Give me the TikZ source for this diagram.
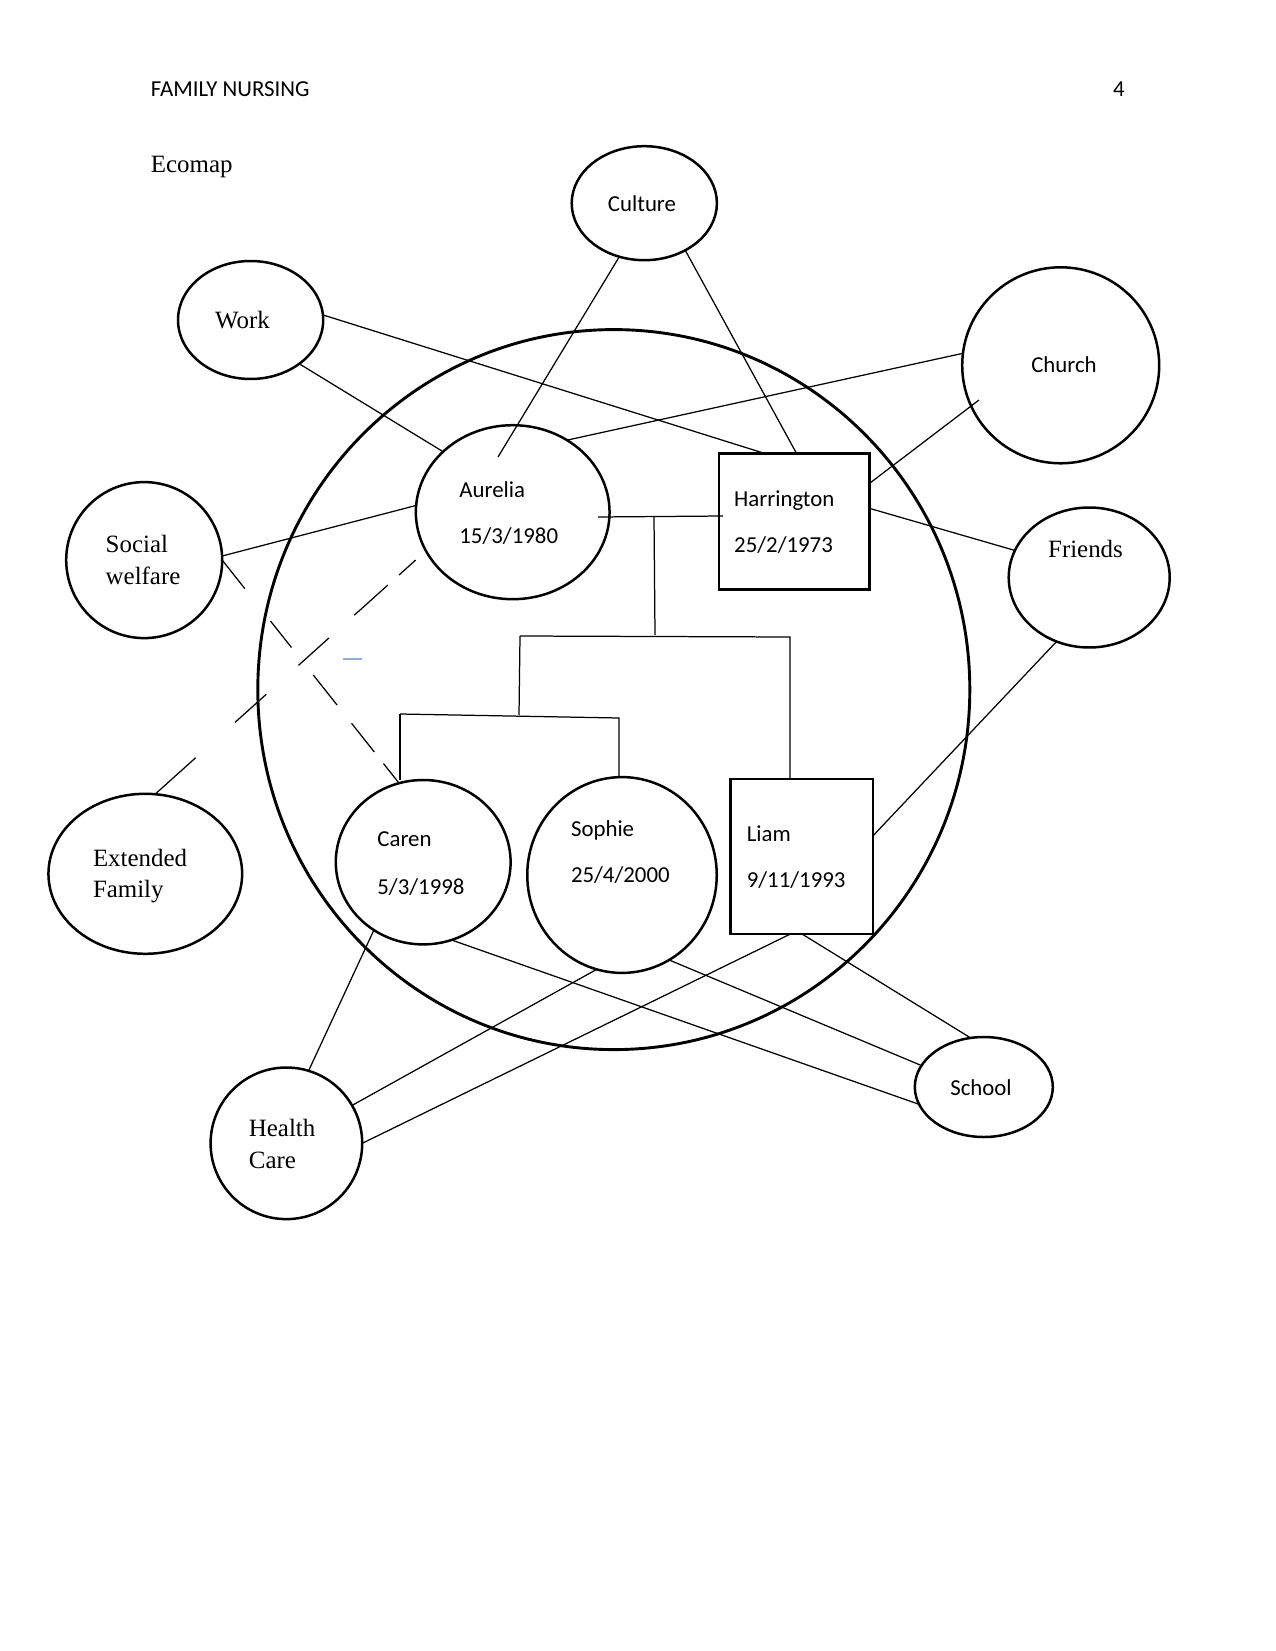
\documentclass[tikz,border=0pt]{standalone}
\usepackage{fontspec}
\setmainfont{Liberation Serif}
\newfontfamily\calib{Carlito}
\usetikzlibrary{shapes.geometric}
\begin{document}
\begin{tikzpicture}[x=0.4818pt, y=-0.4818pt,
  ell/.style 2 args={draw, ellipse, line width=1.2pt, inner sep=0pt, outer sep=0pt,
    minimum width={#1*0.4818pt}, minimum height={#2*0.4818pt}},
  famrect/.style 2 args={draw, rectangle, line width=1.2pt, inner sep=0pt, outer sep=0pt,
    minimum width={#1*0.4818pt}, minimum height={#2*0.4818pt}},
  link/.style={line width=0.6pt},
  sans/.style={font=\calib\fontsize{11}{13}\selectfont, inner sep=0pt},
  serif/.style={font=\fontsize{12}{14}\selectfont, inner sep=0pt}]
\useasboundingbox (0,0) rectangle (1275,1651);

% header
\node[sans, anchor=base west] (hdr) at (150.5,97) {FAMILY NURSING};
\node[sans, anchor=base] (pg) at (1119,97) {4};
\node[serif, anchor=base west] (title) at (150.5,173) {Ecomap};

% shapes
\node[ell={1424}{1440}, line width=1.4pt, minimum width={712*0.4818pt}, minimum height={720*0.4818pt}] (home) at (613.8,689.6) {};
\node[ell={145.2}{114}] (culture) at (644.3,203.2) {};
\node[ell={145.2}{118}] (work) at (250.6,320) {};
\node[ell={197}{196}] (church) at (1060.7,365.3) {};
\node[ell={193.7}{174}] (aur) at (512.7,512.2) {};
\node[famrect={150.6}{135.9}] (harr) at (794.3,521.65) {};
\node[ell={161}{140}] (friends) at (1089.2,577.5) {};
\node[ell={156}{156}] (social) at (144.2,560.1) {};
\node[ell={193.7}{160}] (ext) at (145.3,873.8) {};
\node[ell={174.8}{164.4}] (caren) at (423.2,862.2) {};
\node[ell={189.5}{195.8}] (sophie) at (622,875) {};
\node[famrect={142.2}{154.8}] (liam) at (801.7,856.4) {};
\node[ell={151.6}{151.6}] (health) at (286.4,1143.3) {};
\node[ell={138}{100}] (school) at (983.8,1087) {};

% texts
\node[sans, anchor=base] (cultureT) at (642,211.5) {Culture};
\node[serif, anchor=base west] (workT) at (214.8,329) {Work};
\node[sans, anchor=base] (churchT) at (1064,372.5) {Church};
\node[sans, anchor=base west] (aurT1) at (459,497) {Aurelia};
\node[sans, anchor=base west] (aurT2) at (459,543.5) {15/3/1980};
\node[sans, anchor=base west] (harrT1) at (733.8,506.5) {Harrington};
\node[sans, anchor=base west] (harrT2) at (733.8,552.5) {25/2/1973};
\node[serif, anchor=base] (friendsT) at (1085.5,557.6) {Friends};
\node[serif, anchor=base west] (socialT1) at (105.3,552) {Social};
\node[serif, anchor=base west] (socialT2) at (105.3,584) {welfare};
\node[serif, anchor=base west] (extT1) at (92.6,866) {Extended};
\node[serif, anchor=base west] (extT2) at (92.6,897.6) {Family};
\node[sans, anchor=base west] (carenT1) at (377,846.5) {Caren};
\node[sans, anchor=base west] (carenT2) at (377,894) {5/3/1998};
\node[sans, anchor=base west] (sophieT1) at (570.6,836) {Sophie};
\node[sans, anchor=base west] (sophieT2) at (570.6,882.5) {25/4/2000};
\node[sans, anchor=base west] (liamT1) at (746.4,841.3) {Liam};
\node[sans, anchor=base west] (liamT2) at (746.4,887.5) {9/11/1993};
\node[serif, anchor=base west] (healthT1) at (248.5,1136.6) {Health};
\node[serif, anchor=base west] (healthT2) at (248.5,1168) {Care};
\node[sans, anchor=base] (schoolT) at (981,1095) {School};

% free-end coordinates
\coordinate (cuA) at (498,457);
\coordinate (chH) at (979,400);
\coordinate (dA) at (415.7,560);
\coordinate (mA) at (598,517);
\coordinate (mH) at (723,516);
\coordinate (m) at (654,517);
\coordinate (k) at (655,635);
\coordinate (kL) at (520,636);
\coordinate (kR) at (790,637);
\coordinate (j) at (519,715);
\coordinate (jL) at (400,714);
\coordinate (jR) at (619,718);
\coordinate (bl1) at (343,659);
\coordinate (bl2) at (362,659);

% ecomap connectors
\draw[link] (work.4) -- (harr.113.7);
\draw[link] (work.-42) -- (aur.139);
\draw[link] (culture.-115) -- (cuA);
\draw[link] (culture.-49) -- (harr.88.5);
\draw[link] (church.173.5) -- (aur.53);
\draw[link] (chH) -- (harr.27.8);
\draw[link] (harr.10) -- (friends.160);
\draw[link] (social.3.7) -- (aur.176);
\draw[link, dash pattern=on 17.54pt off 19.9pt on 16.28pt off 16.86pt on 18.55pt off 11.23pt on 17.59pt off 7.18pt on 20pt off 20pt] (social.0) -- (caren.107);
\draw[link, dash pattern=on 10.74pt off 7.37pt on 21.68pt off 16.38pt on 19.75pt off 20.86pt on 20.24pt off 25.54pt on 26.02pt off 30pt] (dA) -- (ext.83);
\draw[line width=0.5pt, color={rgb,255:red,140;green,175;blue,210}] (bl1) -- (bl2);
\draw[link] (friends.-117) -- (liam.16.75);
\draw[link] (caren.-126) -- (health.73.7);
\draw[link] (caren.-70) -- (school.-165);
\draw[link] (sophie.-105.5) -- (health.30);
\draw[link] (sophie.-61) -- (school.161);
\draw[link] (liam.-98.9) -- (health.0);
\draw[link] (liam.-90) -- (school.105);

% genealogy lines
\draw[link] (mA) -- (mH);
\draw[link] (m) -- (k);
\draw[link] (kL) -- (kR) -- (kR |- liam.north);
\draw[link] (kL) -- (j);
\draw[link] (jL) -- (jR) -- (jR |- sophie.north);
\draw[link] (jL) -- (jL |- caren.north);
\end{tikzpicture}
\end{document}
